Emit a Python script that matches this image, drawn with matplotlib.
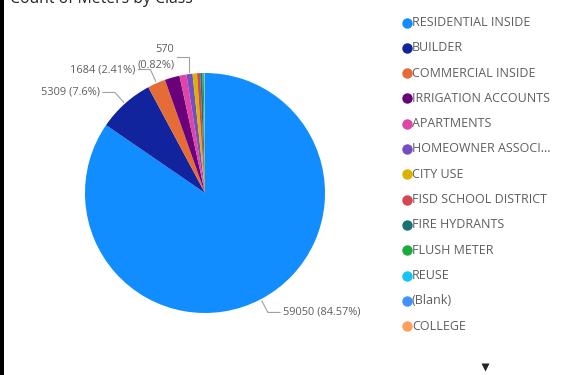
import matplotlib.pyplot as plt
from matplotlib.patches import Rectangle
import numpy as np

classes = ['RESIDENTIAL INSIDE', 'BUILDER', 'COMMERCIAL INSIDE', 'IRRIGATION ACCOUNTS',
           'APARTMENTS', 'HOMEOWNER ASSOCI...', 'CITY USE', 'FISD SCHOOL DISTRICT',
           'FIRE HYDRANTS', 'FLUSH METER', 'REUSE', '(Blank)', 'COLLEGE']
meters = [59050, 5309, 1684, 1391, 660, 570, 420, 300, 200, 130, 60, 35, 15]
colors = ['#118DFF', '#12239E', '#E66C37', '#6B007B', '#E044A7', '#744EC2', '#D9B300',
          '#D64550', '#197278', '#1AAB40', '#15C6F4', '#4092FF', '#FFA058']
# slices that get a data label
labelled = ['RESIDENTIAL INSIDE', 'BUILDER', 'COMMERCIAL INSIDE', 'HOMEOWNER ASSOCI...']

W, H = 563, 375
fig = plt.figure(figsize=(W / 100, H / 100), dpi=100)
ax = fig.add_axes([0, 0, 1, 1])

font = 'Open Sans'
grey = '#605E5C'

cx, cy, R = 205, H - 193, 120
wedges, _ = ax.pie(meters, colors=colors, startangle=90, counterclock=False,
                   center=(cx, cy), radius=R, frame=True,
                   wedgeprops=dict(linewidth=0))

total = sum(meters)


def fmt(v):
    pct = f"{v / total * 100:.2f}".rstrip('0').rstrip('.')
    return v, pct


for name, w in zip(classes, wedges):
    if name not in labelled:
        continue
    v = meters[classes.index(name)]
    val, pct = fmt(v)
    mid = np.deg2rad((w.theta1 + w.theta2) / 2)
    x0, y0 = cx + (R + 2) * np.cos(mid), cy + (R + 2) * np.sin(mid)
    x1, y1 = cx + (R + 15) * np.cos(mid), cy + (R + 15) * np.sin(mid)
    side = 1 if np.cos(mid) > 0 else -1
    if name == 'HOMEOWNER ASSOCI...':
        x1, y1 = x0, y0 + 15
        text = f"{val}\n({pct}%)"
    else:
        text = f"{val} ({pct}%)"
    x2 = x1 + side * 12
    ax.plot([x0, x1, x2], [y0, y1, y1], color='#A0A0A0', lw=0.8)
    ax.text(x2 + side * 3, y1, text, ha='left' if side > 0 else 'right',
            va='center', fontsize=7.9, color=grey, family=font,
            linespacing=1.5)

# legend
for i, (name, c) in enumerate(zip(classes, colors)):
    y = H - (22.5 + i * 25.3)
    ax.plot(407, y, 'o', ms=7.5, color=c, mec='none')
    ax.text(412, y, name, va='center', ha='left', fontsize=9, color=grey, family=font)

ax.plot(485, H - 367, 'v', ms=5.5, color='#252423', mec='none')

ax.text(10, H - 3, 'Count of Meters by Class', fontsize=11.3, color='#252423',
        family=font, va='baseline', ha='left')

ax.add_patch(Rectangle((0, 0), 4, H, color='black', lw=0))

ax.set_xlim(0, W)
ax.set_ylim(0, H)
ax.set_aspect('equal')
ax.axis('off')

fig.savefig('out.png', dpi=100)
